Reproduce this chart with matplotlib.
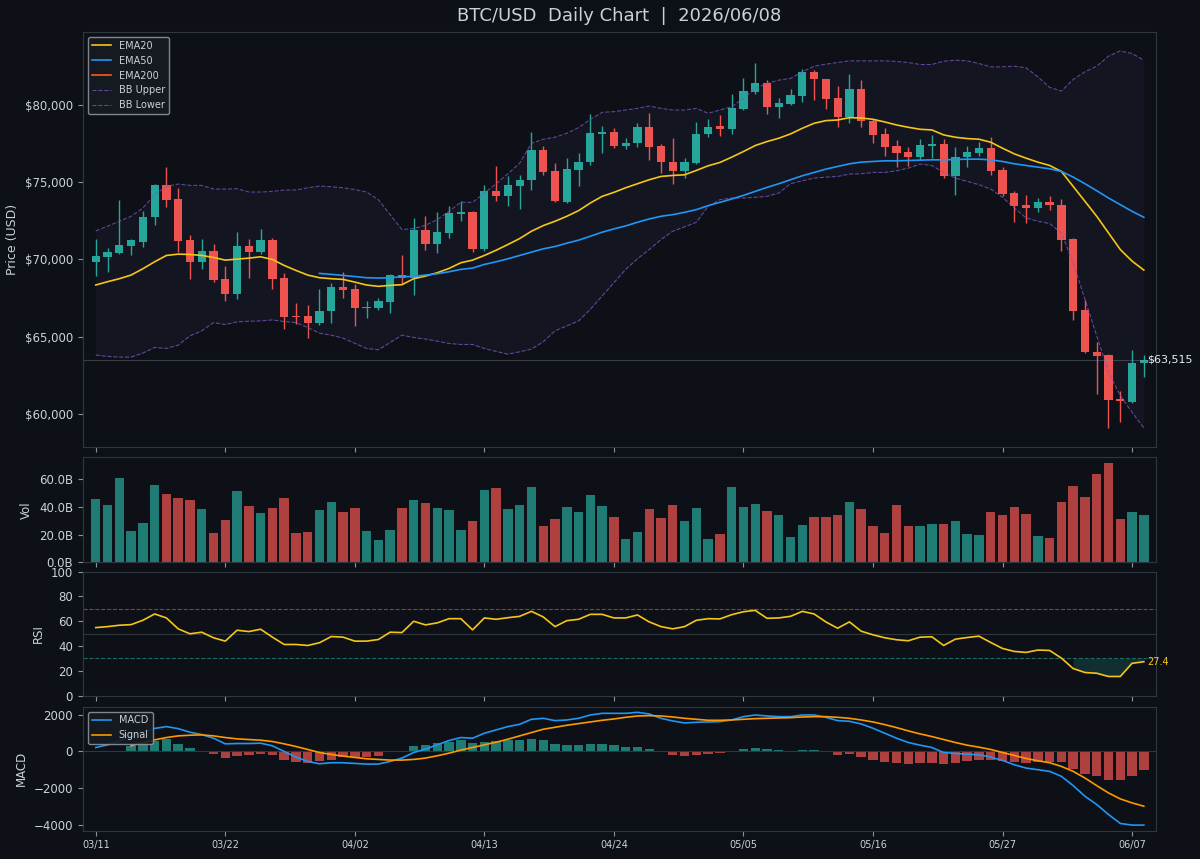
import numpy as np
import pandas as pd
import matplotlib
matplotlib.use('Agg')
import matplotlib.pyplot as plt
from matplotlib.ticker import FuncFormatter, MultipleLocator

# data
dates = pd.date_range('2026-03-11', periods=90, freq='D')

opens = [69847, 70148, 70406, 70900, 71159, 72729, 74837, 73933, 71266, 69847,
         70513, 68728, 67760, 70900, 70449, 71288, 68792, 66362, 66340, 65910,
         66663, 68233, 68061, 66878, 66856, 67244, 68986, 68814, 71933, 71030,
         71718, 72944, 73051, 70642, 74450, 74084, 74729, 75116, 77095, 75740,
         73718, 75805, 76278, 78107, 78235, 77375, 77526, 78601, 77353, 76300,
         75697, 76235, 78107, 78623, 78450, 79720, 80860, 81397, 79892, 80064,
         80580, 82150, 81655, 80429, 79203, 81010, 78988, 78107, 77375, 76945,
         76665, 77375, 77482, 75374, 76601, 76880, 77245, 75805, 74299, 73503,
         73310, 73718, 73546, 71331, 66706, 64017, 63802, 60963, 60790, 63286]
highs = [71331, 70750, 73869, 71290, 73160, 74880, 75977, 74643, 71610, 71331,
         71008, 69545, 71782, 71352, 71976, 71395, 69137, 67200, 67029, 68104,
         68491, 69201, 68384, 67308, 67523, 69029, 70277, 72686, 72836, 73073,
         73439, 73761, 73116, 74837, 76063, 75374, 75461, 78278, 77375, 76235,
         76557, 76880, 79418, 78644, 78493, 77848, 78816, 79462, 77482, 77891,
         76557, 78881, 79096, 79354, 80687, 81720, 82752, 81612, 80429, 81010,
         82365, 82258, 81677, 81225, 82000, 81612, 79074, 78493, 77741, 77310,
         77784, 78064, 77784, 77310, 77353, 77633, 77956, 75977, 74407, 74192,
         73976, 74127, 73933, 71395, 67373, 64620, 63866, 61500, 64146, 63802]
lows = [68922, 69180, 70320, 70277, 70836, 72256, 73374, 70470, 68750, 69352,
        68556, 67308, 67416, 68814, 70320, 68104, 65480, 65803, 64942, 65738,
        65910, 67502, 65695, 66233, 66728, 66512, 68384, 67696, 70599, 70427,
        71395, 72471, 70470, 70535, 73804, 73482, 73267, 74471, 75439, 73697,
        73654, 74772, 76127, 76923, 77203, 77138, 77267, 76450, 75590, 74880,
        75267, 76192, 77956, 77999, 78107, 79677, 80687, 79418, 79139, 79999,
        80214, 80322, 79741, 78601, 78816, 78601, 77569, 76708, 75977, 76020,
        76450, 76558, 75267, 74192, 75977, 76730, 75482, 74127, 72406, 72363,
        73051, 73224, 70535, 66082, 63931, 61285, 59070, 59457, 60705, 62361]
closes = [70212, 70470, 70965, 71245, 72772, 74837, 73826, 71202, 69847, 70513,
          68663, 67760, 70900, 70449, 71288, 68749, 66297, 66276, 65910, 66663,
          68233, 68018, 66835, 66943, 67308, 68965, 68814, 71933, 71030, 71782,
          73008, 73051, 70642, 74450, 74084, 74794, 75116, 77095, 75633, 73761,
          75869, 76321, 78171, 78235, 77353, 77569, 78601, 77310, 76278, 75697,
          76278, 78128, 78601, 78450, 79806, 80903, 81397, 79892, 80150, 80623,
          82150, 81655, 80365, 79203, 81010, 78988, 78042, 77310, 76880, 76665,
          77418, 77504, 75374, 76665, 76945, 77245, 75697, 74256, 73482, 73331,
          73718, 73503, 71288, 66663, 63975, 63759, 60898, 60812, 63264, 63515]

# volume in billions USD
volume_b = [45.4, 41.3, 61.0, 22.6, 28.3, 55.7, 49.4, 46.1, 44.9, 38.2,
            21.1, 30.5, 51.6, 40.3, 35.3, 39.1, 46.6, 21.1, 21.6, 37.9,
            43.2, 36.5, 39.4, 22.8, 15.8, 23.3, 39.4, 44.9, 42.5, 38.9,
            37.7, 23.3, 29.8, 52.3, 53.5, 38.2, 41.5, 54.0, 26.2, 31.0,
            39.8, 36.5, 48.5, 40.3, 32.9, 16.6, 21.6, 38.2, 31.9, 41.5,
            29.5, 38.9, 17.0, 20.6, 54.2, 39.8, 42.0, 37.0, 34.1, 18.2,
            27.1, 32.4, 32.4, 34.1, 43.7, 38.2, 26.2, 21.1, 41.5, 26.2,
            26.4, 27.4, 27.8, 29.8, 20.6, 19.7, 36.2, 33.8, 40.1, 34.6,
            19.2, 17.3, 43.4, 55.2, 47.3, 63.8, 71.3, 31.0, 36.0, 34.3]

ema20 = [68341, 68556, 68750, 68986, 69395, 69847, 70256, 70341, 70320, 70256,
         70126, 69954, 70019, 70083, 70169, 69997, 69610, 69287, 68986, 68814,
         68750, 68706, 68530, 68341, 68255, 68320, 68363, 68750, 68922, 69137,
         69416, 69782, 69954, 70256, 70595, 70965, 71352, 71826, 72191, 72471,
         72793, 73159, 73654, 74084, 74342, 74640, 74901, 75160, 75374, 75439,
         75482, 75762, 76063, 76278, 76622, 76988, 77375, 77633, 77848, 78128,
         78493, 78816, 78988, 79031, 79182, 79160, 79074, 78902, 78709, 78558,
         78429, 78386, 78063, 77913, 77827, 77784, 77590, 77203, 76837, 76558,
         76300, 76085, 75697, 74729, 73762, 72793, 71718, 70642, 69890, 69309]
ema50 = [np.nan] * 19 + [
         69094, 69030, 68965, 68890, 68814, 68793, 68814, 68879, 68900, 68986,
         69072, 69201, 69352, 69438, 69674, 69847, 70040, 70256, 70470, 70685,
         70836, 71051, 71245, 71503, 71761, 71976, 72170, 72406, 72621, 72793,
         72901, 73051, 73224, 73482, 73697, 73912, 74148, 74406, 74665, 74901,
         75160, 75418, 75633, 75848, 76020, 76192, 76300, 76343, 76386, 76386,
         76407, 76429, 76450, 76450, 76472, 76493, 76493, 76450, 76343, 76192,
         76085, 75977, 75870, 75697, 75332, 74901, 74450, 73977, 73546, 73116,
         72729]
bb_upper = [71847, 72148, 72471, 72793, 73331, 74192, 74729, 74880, 74794, 74794,
            74557, 74557, 74580, 74363, 74363, 74406, 74493, 74493, 74643, 74751,
            74708, 74643, 74530, 74363, 73869, 72901, 71933, 71997, 72213, 72578,
            73116, 73697, 73697, 74299, 74901, 75546, 76235, 77525, 77783, 77912,
            78171, 78536, 79074, 79526, 79569, 79677, 79784, 79935, 79784, 79677,
            79677, 79784, 79462, 79677, 79892, 80429, 81074, 81397, 81612, 81720,
            82150, 82516, 82645, 82752, 82860, 82860, 82860, 82860, 82820, 82752,
            82623, 82623, 82839, 82903, 82860, 82688, 82473, 82473, 82516, 82408,
            81828, 81139, 80903, 81655, 82150, 82516, 83161, 83505, 83333, 82903]
bb_lower = [63802, 63716, 63673, 63673, 63931, 64297, 64232, 64447, 65050, 65372,
            65910, 65781, 65953, 65996, 66017, 66082, 65975, 65910, 65588, 65222,
            65093, 64899, 64566, 64232, 64146, 64620, 65093, 64943, 64835, 64706,
            64555, 64491, 64491, 64232, 64038, 63866, 64017, 64189, 64663, 65372,
            65695, 66017, 66770, 67631, 68491, 69352, 70040, 70642, 71288, 71826,
            72105, 72406, 73439, 73869, 73977, 73977, 74020, 74084, 74299, 74901,
            75095, 75267, 75331, 75374, 75525, 75546, 75633, 75633, 75740, 75912,
            76170, 76084, 75633, 75267, 75052, 74837, 74557, 74020, 73331, 72686,
            72471, 72320, 71718, 69782, 67416, 65050, 62683, 61178, 60102, 59070]

rsi = [54.9, 55.7, 56.8, 57.3, 60.8, 65.9, 62.7, 53.9, 49.9, 51.2,
       46.7, 44.0, 52.8, 51.7, 53.6, 47.2, 41.3, 41.3, 40.5, 42.7,
       47.7, 47.2, 44.0, 44.0, 45.3, 51.2, 50.9, 60.0, 57.1, 58.7,
       62.1, 62.1, 53.1, 62.7, 61.6, 62.9, 64.0, 68.0, 63.5, 55.7,
       60.5, 61.6, 65.6, 65.6, 62.7, 62.7, 65.1, 59.5, 55.7, 53.9,
       55.7, 60.8, 62.1, 61.9, 65.3, 67.7, 68.8, 62.4, 62.7, 64.0,
       68.0, 65.9, 59.5, 54.4, 59.5, 52.0, 49.1, 46.7, 45.1, 44.3,
       47.2, 47.5, 40.5, 45.6, 46.9, 48.0, 42.9, 38.1, 35.7, 34.9,
       36.8, 36.5, 30.3, 21.9, 18.7, 18.1, 15.5, 15.5, 26.1, 27.4]

macd = [216, 360, 560, 800, 1050, 1250, 1350, 1240, 1044, 918,
        720, 414, 432, 432, 450, 306, 0, -306, -540, -666,
        -612, -612, -648, -684, -684, -540, -360, -54, 126, 360,
        594, 756, 720, 990, 1170, 1350, 1476, 1746, 1800, 1674,
        1710, 1800, 1980, 2070, 2070, 2070, 2124, 2034, 1800, 1656,
        1548, 1584, 1602, 1620, 1710, 1890, 1980, 1926, 1890, 1890,
        1980, 1980, 1854, 1674, 1638, 1494, 1260, 990, 720, 486,
        342, 216, -54, -108, -144, -180, -306, -486, -720, -900,
        -990, -1080, -1350, -1854, -2430, -2880, -3420, -3906, -3996, -3996]
signal = [np.nan, np.nan, np.nan, 306, 486, 630, 756, 846, 882, 900,
          846, 756, 684, 648, 612, 540, 414, 270, 108, -54,
          -162, -252, -324, -396, -432, -468, -468, -432, -360, -234,
          -90, 72, 216, 360, 504, 666, 846, 1026, 1206, 1314,
          1422, 1512, 1602, 1692, 1764, 1854, 1926, 1944, 1926, 1872,
          1800, 1746, 1692, 1692, 1710, 1746, 1782, 1800, 1818, 1836,
          1872, 1890, 1890, 1854, 1800, 1710, 1602, 1458, 1296, 1116,
          954, 810, 648, 486, 342, 234, 108, -54, -216, -378,
          -504, -612, -810, -1080, -1440, -1854, -2250, -2574, -2790, -2970]
macd_hist = [np.nan, np.nan, np.nan, 306, 450, 594, 666, 414, 180, 18,
             -144, -342, -234, -216, -144, -216, -450, -576, -648, -540,
             -450, -306, -306, -306, -270, -54, 20, 270, 378, 450,
             540, 630, 486, 540, 594, 630, 630, 684, 630, 414,
             360, 378, 414, 414, 342, 234, 234, 126, 10, -180,
             -270, -198, -126, -90, 10, 126, 198, 108, 54, 36,
             90, 90, 10, -180, -144, -306, -450, -558, -648, -684,
             -648, -612, -684, -612, -540, -450, -450, -540, -594, -630,
             -594, -594, -594, -936, -1206, -1350, -1530, -1566, -1314, -1026]

for arr in [opens, highs, lows, closes, volume_b, ema20, ema50, bb_upper,
            bb_lower, rsi, macd, signal, macd_hist]:
    assert len(arr) == len(dates), len(arr)

# colors
BG = '#0d1117'
UP = '#26a69a'
DOWN = '#ef5350'
TXT = '#c9d1d9'
SPINE = '#30363d'

x = np.arange(len(dates))
o = np.array(opens, dtype=float)
c = np.array(closes, dtype=float)
up = c >= o
cols = np.where(up, UP, DOWN)

fig = plt.figure(figsize=(12, 8.59), dpi=100, facecolor=BG)
left, width = 0.069, 0.894
ax = fig.add_axes([left, 0.4796, width, 0.4831])
axv = fig.add_axes([left, 0.3454, width, 0.1222], sharex=ax)
axr = fig.add_axes([left, 0.1901, width, 0.1444], sharex=ax)
axm = fig.add_axes([left, 0.0329, width, 0.1444], sharex=ax)

for a in [ax, axv, axr, axm]:
    a.set_facecolor(BG)
    for s in a.spines.values():
        s.set_color(SPINE)
    a.tick_params(colors='#8b949e', labelcolor=TXT, labelsize=8.5)

# price panel
ax.fill_between(x, bb_lower, bb_upper, color='#7e57c2', alpha=0.06, lw=0)
ax.vlines(x, lows, highs, colors=cols, lw=1)
ax.bar(x, np.maximum(np.abs(c - o), 40), bottom=np.minimum(o, c), width=0.7, color=cols)
ax.plot(x, bb_upper, ls='--', color='#7e57c2', lw=0.8, alpha=0.75, label='BB Upper')
ax.plot(x, bb_lower, ls='--', color='#7e57c2', lw=0.8, alpha=0.75, label='BB Lower')
ax.plot(x, ema20, color='#f5c518', lw=1.2, label='EMA20')
ax.plot(x, ema50, color='#2196f3', lw=1.2, label='EMA50')
ax.plot([], [], color='#ff5722', lw=1.2, label='EMA200')
ax.axhline(closes[-1], color='#8b949e', lw=0.8, alpha=0.35)
ax.text(x[-1] + 0.3, closes[-1], f'${closes[-1]:,.0f}', color='#e6edf3',
        fontsize=8, va='center', ha='left')
ax.yaxis.set_major_locator(MultipleLocator(5000))
ax.yaxis.set_major_formatter(FuncFormatter(lambda v, p: f'${v:,.0f}'))
ax.set_ylabel('Price (USD)', color=TXT, fontsize=9)
ax.set_title('BTC/USD  Daily Chart  |  2026/06/08', color=TXT, fontsize=13, pad=8)
h, l = ax.get_legend_handles_labels()
order = ['EMA20', 'EMA50', 'EMA200', 'BB Upper', 'BB Lower']
hd = dict(zip(l, h))
leg = ax.legend([hd[k] for k in order], order, loc='upper left', fontsize=7,
                facecolor='#161b22', edgecolor='#8b949e', labelcolor=TXT, framealpha=0.9)

# volume panel
axv.bar(x, volume_b, width=0.8, color=cols, alpha=0.72)
axv.set_ylim(0, max(volume_b) * 1.06)
axv.yaxis.set_major_locator(MultipleLocator(20))
axv.yaxis.set_major_formatter(FuncFormatter(lambda v, p: f'{v:.1f}B'))
axv.set_ylabel('Vol', color=TXT, fontsize=8.5)

# RSI panel
r = np.array(rsi)
axr.axhline(70, color=DOWN, ls='--', lw=0.8, alpha=0.6)
axr.axhline(30, color=UP, ls='--', lw=0.8, alpha=0.6)
axr.axhline(50, color=SPINE, lw=0.8)
axr.fill_between(x, r, 30, where=r < 30, color=UP, alpha=0.2, lw=0)
axr.plot(x, r, color='#f5c518', lw=1.2)
axr.text(x[-1] + 0.3, r[-1], f'{r[-1]:.1f}', color='#f5c518', fontsize=7, va='center')
axr.set_ylim(0, 100)
axr.yaxis.set_major_locator(MultipleLocator(20))
axr.set_ylabel('RSI', color=TXT, fontsize=8.5)

# MACD panel
hist = np.array(macd_hist, dtype=float)
hcols = np.where(hist >= 0, UP, DOWN)
axm.axhline(0, color=SPINE, lw=0.8)
axm.bar(x, hist, width=0.8, color=hcols, alpha=0.72)
axm.plot(x, macd, color='#2196f3', lw=1.2, label='MACD')
axm.plot(x, signal, color='#ff9800', lw=1.2, label='Signal')
axm.yaxis.set_major_locator(MultipleLocator(2000))
axm.set_ylabel('MACD', color=TXT, fontsize=8.5)
axm.legend(loc='upper left', fontsize=7, facecolor='#161b22', edgecolor='#8b949e',
           labelcolor=TXT, framealpha=0.9)

# shared x axis
ticks = x[::11]
axm.set_xticks(ticks)
axm.set_xticklabels([d.strftime('%m/%d') for d in dates[::11]], fontsize=7)
for a in [ax, axv, axr]:
    plt.setp(a.get_xticklabels(), visible=False)
ax.set_xlim(-1.1, 90.0)

fig.savefig('out.png', dpi=100, facecolor=BG)
